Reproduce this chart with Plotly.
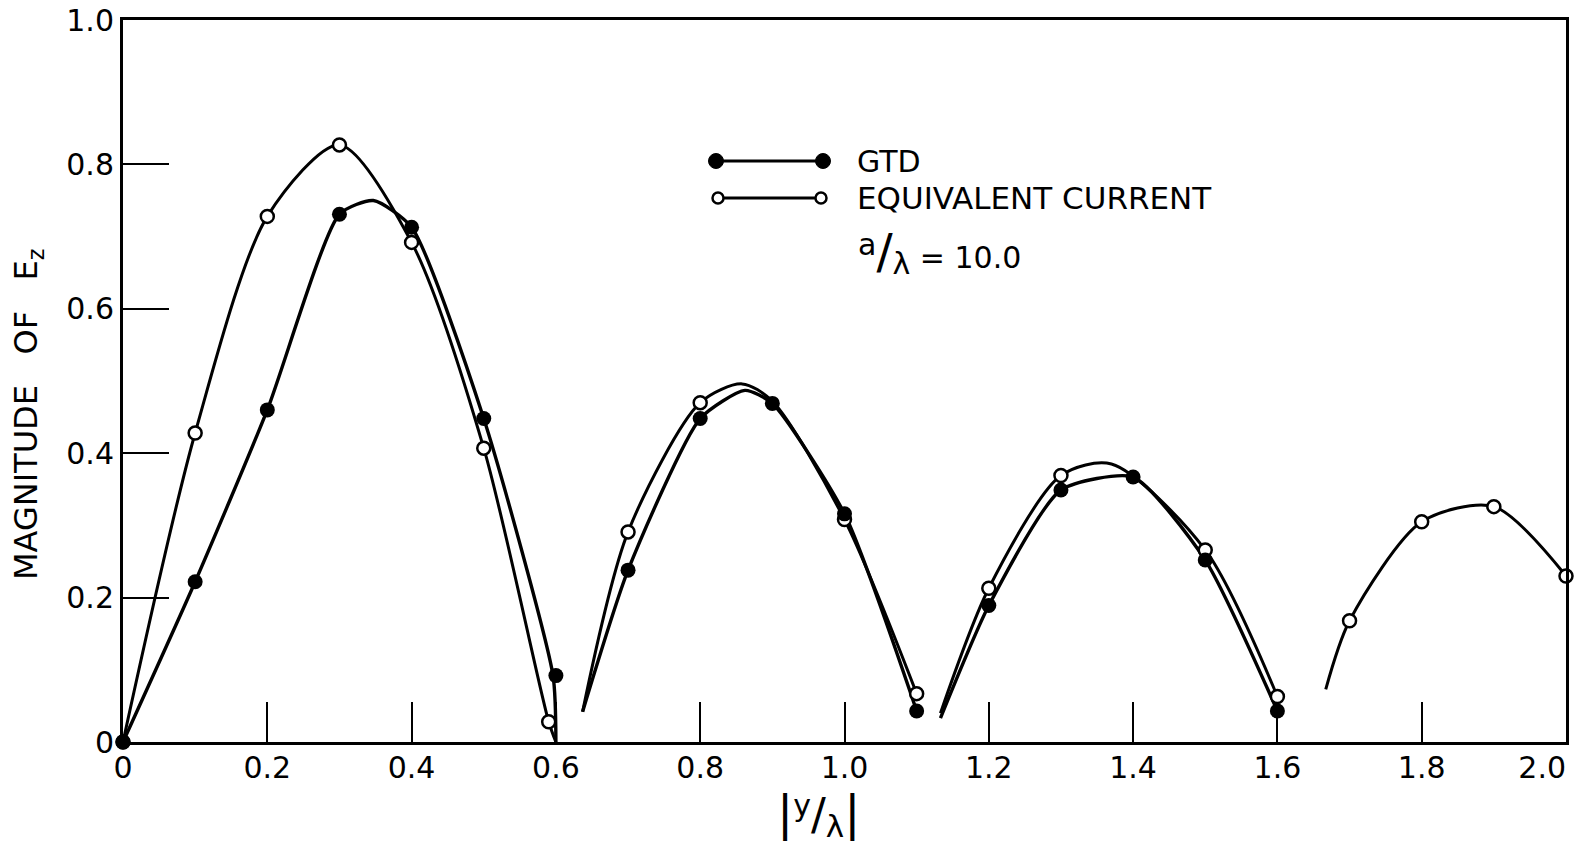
import plotly.graph_objects as go

# ---- data ----
# GTD (filled markers)
gtd_x = [0, 0.1, 0.2, 0.3, 0.4, 0.5, 0.6, 0.7, 0.8, 0.9, 1.0, 1.1, 1.2, 1.3, 1.4, 1.5, 1.6]
gtd_y = [0, 0.222, 0.46, 0.731, 0.713, 0.448, 0.092, 0.238, 0.448, 0.469, 0.316, 0.043,
         0.189, 0.349, 0.367, 0.252, 0.043]

# Equivalent current (open markers)
eq_x = [0, 0.1, 0.2, 0.3, 0.4, 0.5, 0.59, 0.7, 0.8, 1.0, 1.1, 1.2, 1.3, 1.5, 1.6, 1.7, 1.8, 1.9, 2.0]
eq_y = [0, 0.428, 0.728, 0.827, 0.692, 0.407, 0.028, 0.291, 0.47, 0.308, 0.067, 0.213,
        0.369, 0.266, 0.063, 0.168, 0.305, 0.326, 0.23]

# hand-drawn curve paths (lobes)
gtd_curve_x = [[0, 0.1, 0.2, 0.3, 0.347, 0.4, 0.5, 0.596, 0.6],
               [0.637, 0.7, 0.8, 0.862, 0.9, 1.0, 1.1],
               [1.133, 1.2, 1.3, 1.4, 1.5, 1.6]]
gtd_curve_y = [[0, 0.222, 0.46, 0.731, 0.75, 0.713, 0.448, 0.092, 0.0],
               [0.042, 0.238, 0.448, 0.487, 0.469, 0.316, 0.043],
               [0.033, 0.189, 0.349, 0.367, 0.252, 0.043]]

eq_curve_x = [[0, 0.1, 0.2, 0.3, 0.4, 0.5, 0.59, 0.6],
              [0.637, 0.7, 0.8, 0.858, 0.9, 1.0, 1.1],
              [1.133, 1.2, 1.3, 1.37, 1.5, 1.6],
              [1.667, 1.7, 1.8, 1.9, 2.0]]
eq_curve_y = [[0, 0.428, 0.728, 0.827, 0.692, 0.407, 0.028, 0.0],
              [0.042, 0.291, 0.47, 0.496, 0.472, 0.308, 0.067],
              [0.04, 0.213, 0.369, 0.385, 0.266, 0.063],
              [0.073, 0.168, 0.305, 0.326, 0.23]]

x_ticks = [0, 0.2, 0.4, 0.6, 0.8, 1.0, 1.2, 1.4, 1.6, 1.8, 2.0]
x_ticktext = ["0", "0.2", "0.4", "0.6", "0.8", "1.0", "1.2", "1.4", "1.6", "1.8", "2.0"]
y_ticks = [0, 0.2, 0.4, 0.6, 0.8, 1.0]
y_ticktext = ["0", "0.2", "0.4", "0.6", "0.8", "1.0"]

FONT = "DejaVu Sans"
fig = go.Figure()

def join(lobes_x, lobes_y):
    xs, ys = [], []
    for lx, ly in zip(lobes_x, lobes_y):
        xs += list(lx) + [None]
        ys += list(ly) + [None]
    return xs[:-1], ys[:-1]

cx, cy = join(eq_curve_x, eq_curve_y)
fig.add_trace(go.Scatter(x=cx, y=cy, mode="lines", connectgaps=False,
                         line=dict(color="black", width=3, shape="spline", smoothing=0.8),
                         hoverinfo="skip", showlegend=False))
cx, cy = join(gtd_curve_x, gtd_curve_y)
fig.add_trace(go.Scatter(x=cx, y=cy, mode="lines", connectgaps=False,
                         line=dict(color="black", width=3.4, shape="spline", smoothing=0.6),
                         hoverinfo="skip", showlegend=False))

fig.add_trace(go.Scatter(x=eq_x, y=eq_y, mode="markers", cliponaxis=False,
                         marker=dict(size=13, color="white", line=dict(color="black", width=2.5)),
                         name="EQUIVALENT CURRENT", showlegend=False))
fig.add_trace(go.Scatter(x=gtd_x, y=gtd_y, mode="markers", cliponaxis=False,
                         marker=dict(size=15, color="black"),
                         name="GTD", showlegend=False))

# plot-area geometry (pixels)
L, R, T, B = 123, 1566, 20, 742
W, H = R - L, B - T
def px(x):
    return (x - L) / W
def py(y):
    return (B - y) / H

# last tick label is pushed left so it stays inside the page, as in the original
tick_labels_x = [t if t != "2.0" else t + "&nbsp;" * 5 for t in x_ticktext]

shapes = []
# legend keys
shapes.append(dict(type="line", xref="paper", yref="paper", x0=px(716), x1=px(823), y0=py(161), y1=py(161),
                   line=dict(color="black", width=3)))
for xx in (716, 823):
    shapes.append(dict(type="circle", xref="paper", yref="paper", xsizemode="pixel", ysizemode="pixel",
                       xanchor=px(xx), yanchor=py(161), x0=-7.5, x1=7.5, y0=-7.5, y1=7.5,
                       fillcolor="black", line=dict(color="black", width=1)))
shapes.append(dict(type="line", xref="paper", yref="paper", x0=px(718), x1=px(821), y0=py(198), y1=py(198),
                   line=dict(color="black", width=3)))
for xx in (718, 821):
    shapes.append(dict(type="circle", xref="paper", yref="paper", xsizemode="pixel", ysizemode="pixel",
                       xanchor=px(xx), yanchor=py(198), x0=-5.5, x1=5.5, y0=-5.5, y1=5.5,
                       fillcolor="white", line=dict(color="black", width=2.5)))

annotations = [
    dict(text="GTD", x=px(855), y=py(161), xref="paper", yref="paper", xanchor="left", yanchor="middle",
         showarrow=False, font=dict(family=FONT, size=30, color="black")),
    dict(text="EQUIVALENT CURRENT", x=px(855), y=py(198), xref="paper", yref="paper", xanchor="left",
         yanchor="middle", showarrow=False, font=dict(family=FONT, size=31, color="black")),
    dict(text="<sup><span style='font-size:30px'>a</span></sup><span style='font-size:48px'>/</span>"
              "<sub><span style='font-size:30px'>λ</span></sub> = 10.0",
         x=px(856), y=py(252), xref="paper", yref="paper", xanchor="left", yanchor="middle",
         showarrow=False, font=dict(family=FONT, size=30, color="black")),
    dict(text="MAGNITUDE&nbsp;&nbsp; OF&nbsp;&nbsp; E<sub>z</sub>", x=px(28), y=py(414), xref="paper",
         yref="paper", xanchor="center", yanchor="middle", textangle=-90, showarrow=False,
         font=dict(family=FONT, size=32, color="black")),
    dict(text="<span style='font-size:48px'>|</span><sup><span style='font-size:30px'>y</span></sup>"
              "<span style='font-size:44px'>/</span>"
              "<sub><span style='font-size:31px'>λ</span></sub><span style='font-size:48px'>|</span>",
         x=px(818), y=py(814), xref="paper", yref="paper", xanchor="center", yanchor="middle",
         showarrow=False, font=dict(family=FONT, size=34, color="black")),
]

fig.update_layout(
    width=1581, height=847, autosize=False,
    margin=dict(l=L, r=1581 - R, t=T, b=847 - B, autoexpand=False),
    paper_bgcolor="white", plot_bgcolor="white",
    shapes=shapes, annotations=annotations, showlegend=False,
    xaxis=dict(range=[0, 2.0], tickvals=x_ticks, ticktext=tick_labels_x, ticks="inside", ticklen=40,
               tickwidth=2, tickcolor="black", showline=True, linewidth=3, linecolor="black", mirror=True,
               showgrid=False, zeroline=False, ticklabelstandoff=-3, ticklabeloverflow="allow",
               automargin=False, tickfont=dict(family=FONT, size=30, color="black")),
    yaxis=dict(range=[0, 1.0], tickvals=y_ticks, ticktext=y_ticktext, ticks="inside", ticklen=46,
               tickwidth=2, tickcolor="black", showline=True, linewidth=3, linecolor="black", mirror=True,
               showgrid=False, zeroline=False, ticklabelstandoff=0, automargin=False,
               tickfont=dict(family=FONT, size=30, color="black")),
)

fig.write_html("out.html")
